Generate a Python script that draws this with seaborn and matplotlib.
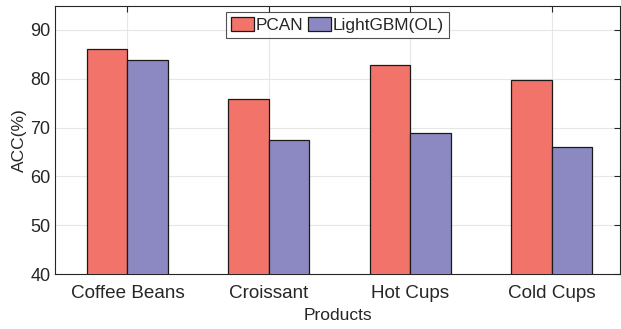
import matplotlib
matplotlib.use("Agg")
import matplotlib.pyplot as plt
import seaborn as sns
import pandas as pd

# dados
produtos = ['Coffee Beans', 'Croissant', 'Hot Cups', 'Cold Cups']
pcan = [86.1, 75.9, 82.8, 79.8]
lightgbm = [83.9, 67.4, 68.8, 66.0]
modelos = ['PCAN', 'LightGBM(OL)']
cores = ['#F1736A', '#8C88C1']

df = pd.DataFrame({
    'Products': produtos * 2,
    'ACC': pcan + lightgbm,
    'Modelo': [modelos[0]] * len(produtos) + [modelos[1]] * len(produtos),
})

sns.set_style('white')
plt.rcParams['font.family'] = ['Liberation Sans', 'DejaVu Sans']
plt.rcParams['text.color'] = '#262626'
plt.rcParams['axes.labelcolor'] = '#262626'
plt.rcParams['xtick.color'] = '#262626'
plt.rcParams['ytick.color'] = '#262626'

fig, ax = plt.subplots(figsize=(6.21, 3.29), dpi=100)
fig.subplots_adjust(left=0.089, right=0.998, top=0.983, bottom=0.167)

sns.barplot(data=df, x='Products', y='ACC', hue='Modelo', palette=cores,
            width=0.572, edgecolor='#1a1a1a', linewidth=0.9, saturation=1,
            ax=ax, zorder=3)

ax.set_ylim(40, 95)
ax.set_xlim(-0.51, 3.48)
ax.set_yticks([40, 50, 60, 70, 80, 90])
ax.grid(True, color='#e6e6e6', linewidth=0.8, zorder=0)
ax.set_axisbelow(True)
ax.tick_params(direction='in', length=4, labelsize=13, top=True, right=True,
               width=0.8, color='#262626')
ax.tick_params(axis='x', pad=8, labelsize=13.6)
for s in ax.spines.values():
    s.set_color('#262626')
    s.set_linewidth(0.8)
ax.set_xlabel('Products', fontsize=12.5, labelpad=4)
ax.set_ylabel('ACC(%)', fontsize=12.5, labelpad=2)

leg = ax.legend(loc='upper center', bbox_to_anchor=(0.5, 0.975), ncol=2,
                fontsize=12.4, frameon=True, fancybox=False, edgecolor='#262626',
                handlelength=1.3, handleheight=0.8, handletextpad=0.1,
                columnspacing=0.3, borderpad=0.3, borderaxespad=0)
leg.get_frame().set_linewidth(0.8)

fig.savefig('out.png', dpi=100)
